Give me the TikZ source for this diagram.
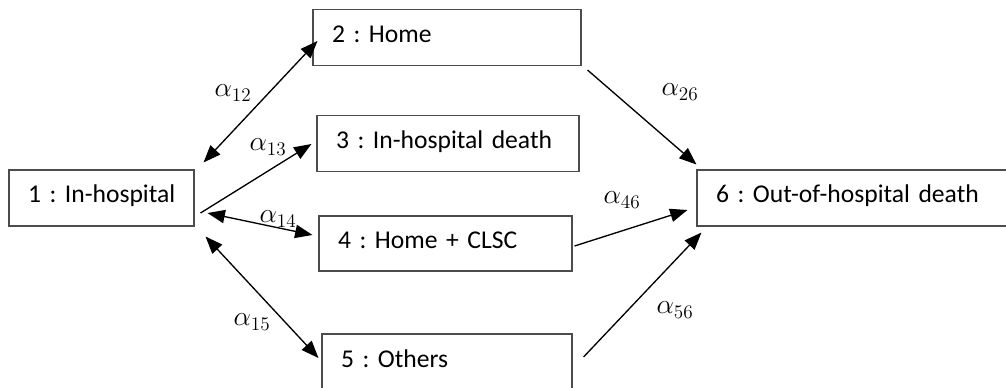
\documentclass[tikz,border=0pt]{standalone}
\usepackage{fontspec}
\setmainfont{Carlito}
\usetikzlibrary{arrows.meta}
\frenchspacing
\hyphenpenalty=10000
\exhyphenpenalty=10000

\begin{document}
\begin{tikzpicture}[x=0.75pt,y=-0.75pt]
\tikzset{every node/.append style={font=\fontsize{19.2}{23}\selectfont}}
\tikzset{state/.style={draw=black!70,line width=0.8pt,inner xsep=14.25pt,inner ysep=0pt,minimum height=42pt,align=left,text height=12.75pt,text depth=5.25pt}}
\tikzset{rate/.style={font=\fontsize{22}{26}\selectfont}}
\tikzset{trans/.style={line width=1pt,-{Triangle[length=13pt,width=10pt]}}}
\tikzset{both/.style={trans,{Triangle[length=13pt,width=10pt]}-{Triangle[length=13pt,width=10pt]}}}
\useasboundingbox (0,0) rectangle (1006,388);
\node [state,text width=110.25pt] (n1) at (101.5,198) {\mbox{1 : In-hospital}};
\node [state,text width=172.5pt] (n2) at (447,37.5) {2 : Home};
\node [state,text width=168pt] (n3) at (448,143.5) {3 : In-hospital death};
\node [state,text width=161.25pt,minimum height=41.25pt] (n4) at (445.5,243.5) {4 : Home + CLSC};
\node [state,text width=159pt] (n5) at (447,362) {5 : Others};
\node [state,text width=207.75pt] (n6) at (854.5,198) {6 : Out-of-hospital death};
\draw [both] ([shift={(9,-7)}]n1.north east) -- ([shift={(5,3.5)}]n2.west);
\draw [trans] ([shift={(6,15)}]n1.east) -- ([shift={(-5,0.5)}]n3.west);
\draw [both] ([shift={(13,15)}]n1.east) -- ([shift={(-6,-8.5)}]n4.west);
\draw [both] ([shift={(11,10)}]n1.south east) -- ([shift={(-3,-4)}]n5.west);
\draw [trans] ([shift={(6,4)}]n2.south east) -- ([shift={(0,-5)}]n6.north west);
\draw [trans] ([shift={(2,2.5)}]n4.east) -- ([shift={(-9,12)}]n6.west);
\draw [trans] ([shift={(11,-5)}]n5.east) -- ([shift={(5,6)}]n6.south west);
\node [rate] (a12) at (233,93) {$\alpha_{12}$};
\node [rate] (a13) at (268,147) {$\alpha_{13}$};
\node [rate] (a14) at (278,219) {$\alpha_{14}$};
\node [rate] (a15) at (252,322) {$\alpha_{15}$};
\node [rate] (a26) at (680,92) {$\alpha_{26}$};
\node [rate] (a46) at (622,200) {$\alpha_{46}$};
\node [rate] (a56) at (675,310) {$\alpha_{56}$};
\end{tikzpicture}
\end{document}
